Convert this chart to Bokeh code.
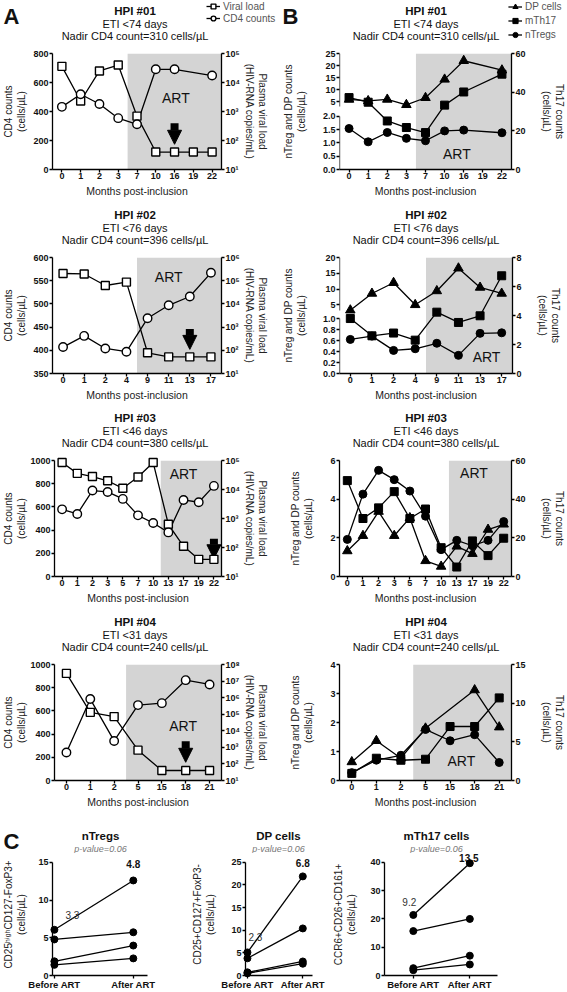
from bokeh.plotting import figure
from bokeh.models import (Range1d, LinearAxis, LogAxis, LogScale, FixedTicker,
                          BoxAnnotation, Label, Legend, LegendItem, Arrow, NormalHead)
from bokeh.layouts import column, row
from bokeh.embed import file_html
from bokeh.resources import INLINE

FONT = "Liberation Sans"
SHADE = "#d4d4d4"

# ------------------------------------------------------------------ data
hpi_names = ["HPI #01", "HPI #02", "HPI #03", "HPI #04"]
hpi_eti = ["ETI <74 days", "ETI <76 days", "ETI <46 days", "ETI <31 days"]
hpi_nadir = [310, 396, 380, 240]

# visit months (x categories)
hpi1_months = [0, 1, 2, 3, 7, 10, 16, 19, 22]
hpi2_months = [0, 1, 2, 4, 9, 11, 13, 17]
hpi3_months = [0, 1, 2, 3, 5, 7, 10, 13, 17, 19, 22]
hpi4_months = [0, 1, 2, 5, 15, 18, 21]
art_after_month = [3, 4, 10, 2]      # ART started after this visit
arrow_month = [16, 13, 22, 18]

# Panel A: CD4 counts (cells/uL) and plasma viral load (copies/mL)
a1_cd4_months = [0, 1, 2, 3, 7, 10, 16, 22]
a1_cd4 = [432, 519, 452, 354, 312, 691, 691, 648]
a1_vl = [36000, 2300, 25000, 40000, 690, 40, 40, 40, 40]

a2_cd4 = [407, 431, 404, 397, 469, 497, 516, 567]
a2_vl = [204000, 195000, 62000, 87000, 78, 52, 52, 52]

a3_cd4 = [579, 539, 741, 729, 669, 527, 461, 380, 660, 640, 781]
a3_vl = [85000, 36000, 28000, 20000, 11000, 27000, 85000, 630, 110, 39, 39]

a4_cd4 = [241, 702, 341, 650, 667, 865, 828]
a4_vl = [29000000, 130000, 72000, 680, 40, 40, 40]

a_cd4_ticks = [[0, 200, 400, 600, 800], [350, 400, 450, 500, 550, 600],
               [0, 200, 400, 600, 800, 1000], [0, 200, 400, 600, 800, 1000]]
a_vl_top_exp = [5, 6, 5, 8]

# Panel B: nTregs, DP cells (left) and mTh17 (right)
b1_series_months = [0, 1, 2, 3, 7, 10, 16, 22]
b1_dp = [6.0, 5.4, 6.0, 3.8, 6.7, 14.3, 22.0, 18.1]
b1_th17 = [37.2, 34.8, 25.1, 21.7, 19.1, 33.3, 40.1, 49.3]
b1_treg = [1.54, 1.04, 1.39, 1.17, 1.08, 1.45, 1.48, 1.38]

b2_dp = [3.3, 8.6, 12.0, 5.0, 9.4, 16.6, 10.5, 8.6]
b2_th17 = [3.79, 2.6, 2.79, 2.30, 4.23, 3.52, 3.98, 6.74]
b2_treg = [0.62, 0.68, 0.42, 0.45, 0.55, 0.33, 0.73, 0.74]

b3_dp = [1.32, 2.11, 3.36, 2.11, 3.03, 0.81, 0.52, 1.56, 1.18, 2.43, 2.70]
b3_th17 = [49.6, 30.0, 35.5, 43.9, 30.0, 34.9, 14.9, 4.9, 18.4, 10.8, 19.8]
b3_treg = [1.92, 4.26, 5.49, 5.01, 4.42, 3.12, 1.39, 1.87, 1.59, 1.87, 2.84]

b4_dp_months = [0, 1, 2, 5, 18, 21]
b4_dp = [0.64, 1.37, 0.77, 1.80, 3.12, 1.84]
b4_th17 = [0.92, 2.88, 2.62, 2.75, 6.98, 6.98, 10.68]
b4_treg = [0.27, 0.70, 0.87, 1.76, 1.37, 1.58, 0.62]

b1_lower_ticks = [0.0, 0.5, 1.0, 1.5, 2.0]
b1_upper_ticks = [5, 10, 15, 20, 25]
b2_lower_ticks = [0.0, 0.2, 0.4, 0.6, 0.8, 1.0]
b2_upper_ticks = [5, 10, 15, 20]
b3_left_ticks = [0, 2, 4, 6]
b4_left_ticks = [0, 1, 2, 3, 4]
b_th17_ticks = [[0, 20, 40, 60], [0, 2, 4, 6, 8], [0, 20, 40, 60], [0, 5, 10, 15]]

# Panel C: before / after ART
c_groups = ["Before ART", "After ART"]
c_ntreg_before = [6.06, 4.78, 1.88, 1.41]
c_ntreg_after = [12.6, 5.73, 3.97, 2.27]
c_dp_before = [5.1, 3.8, 0.7, 0.5]
c_dp_after = [21.9, 10.4, 3.1, 2.6]
c_th17_before = [21.4, 15.7, 2.6, 1.9]
c_th17_after = [39.7, 20.0, 7.0, 3.9]
c_medians = [("3.3", "4.8"), ("2.3", "6.8"), ("9.2", "13.5")]
c_pvalue = "p-value=0.06"
c_titles = ["nTregs", "DP cells", "mTh17 cells"]
c_yticks = [[0, 5, 10, 15], [0, 5, 10, 15, 20, 25], [0, 10, 20, 30, 40]]
c_ylabels = ["CD25ʰⁱᵍʰCD127-FoxP3+\n(cells/µL)", "CD25+CD127+FoxP3-\n(cells/µL)",
             "CCR6+CD26+CD161+\n(cells/µL)"]

SUP = {1: "¹", 2: "²", 3: "³", 4: "⁴", 5: "⁵", 6: "⁶", 7: "⁷", 8: "⁸"}

PAGE_W = 567
HEAD_H = 46
BODY_TOP = 7
FRAME_H = 116
A_W, A_L, A_R = 278, 48, 57
B_W, B_L, B_R = 289, 61, 55
A_CX = A_L + (A_W - A_L - A_R) / 2
B_CX = A_W + B_L + (B_W - B_L - B_R) / 2


# ------------------------------------------------------------------ helpers
def new_fig(w, h, xr, yr, ml, mr, mt, mb):
    p = figure(width=w, height=h, x_range=xr, y_range=yr, output_backend="svg",
               toolbar_location=None, min_border_left=ml, min_border_right=mr,
               min_border_top=mt, min_border_bottom=mb, title=None)
    p.grid.visible = False
    p.outline_line_color = None
    return p


def header_fig(w, h):
    p = figure(width=w, height=h, x_range=Range1d(0, w), y_range=Range1d(0, h),
               output_backend="svg", toolbar_location=None, min_border=0,
               min_border_left=0, min_border_right=0, min_border_top=0, min_border_bottom=0,
               x_axis_location=None, y_axis_location=None, title=None)
    p.grid.visible = False
    p.outline_line_color = None
    return p


def htext(p, h, x, y_top, text, size, style="normal", color="#111111", align="center",
          baseline="middle"):
    p.add_layout(Label(x=x, y=h - y_top, text=text, text_font=FONT, text_font_size=size,
                       text_font_style=style, text_color=color, text_align=align,
                       text_baseline=baseline))


def style_axis(ax, label=None, size="10px", tick_size="9px", standoff=3, tick_standoff=1):
    ax.axis_line_color = "black"
    ax.axis_line_width = 1.3
    ax.major_tick_line_color = "black"
    ax.major_tick_line_width = 1.3
    ax.major_tick_out = 3
    ax.major_tick_in = 0
    ax.minor_tick_line_color = None
    ax.major_label_text_font = FONT
    ax.major_label_text_font_size = tick_size
    ax.major_label_text_font_style = "bold"
    ax.major_label_text_color = "#111111"
    ax.major_label_standoff = tick_standoff
    if label is not None:
        ax.axis_label = label
        ax.axis_label_text_font = FONT
        ax.axis_label_text_font_size = size
        ax.axis_label_text_font_style = "normal"
        ax.axis_label_text_color = "#222222"
        ax.axis_label_standoff = standoff


def month_axis(p, months):
    ax = p.xaxis[0]
    ax.ticker = FixedTicker(ticks=list(range(len(months))))
    ax.major_label_overrides = {i: str(m) for i, m in enumerate(months)}
    style_axis(ax, "Months post-inclusion", size="10.5px", standoff=3, tick_standoff=0)


def small_legend(items, x, y, lh, sp):
    return Legend(items=items, location=(x, y), label_text_font=FONT,
                  label_text_font_size="10px", label_text_color="#555555", glyph_width=14,
                  glyph_height=lh, label_height=lh, label_standoff=3, spacing=sp, padding=0,
                  margin=0, border_line_color=None, background_fill_alpha=0)


def key(h, **kw):
    # legend key renderer: one point placed outside the header's visible area
    return h.scatter([-50], [-50], **kw)


def key_line(h):
    return h.line([-60, -50], [-50, -50], line_color="black", line_width=1.3)


def row_header(k, letters=False, legends=False):
    h = header_fig(PAGE_W, HEAD_H)
    for cx in (A_CX, B_CX):
        htext(h, HEAD_H, cx, 10, hpi_names[k], "11.5px", style="bold")
        htext(h, HEAD_H, cx, 23, hpi_eti[k], "11px")
        htext(h, HEAD_H, cx, 35, "Nadir CD4 count=%d cells/µL" % hpi_nadir[k], "11px")
    if letters:
        htext(h, HEAD_H, 3, 3, "A", "22px", style="bold", align="left", baseline="top")
        htext(h, HEAD_H, 282, 3, "B", "22px", style="bold", align="left", baseline="top")
    if legends:
        l1 = key_line(h)
        s1 = key(h, marker="square", size=8, fill_color="white", line_color="black",
                 line_width=1.4)
        l2 = key_line(h)
        s2 = key(h, marker="circle", size=8.5, fill_color="white", line_color="black",
                 line_width=1.4)
        h.add_layout(small_legend([LegendItem(label="Viral load", renderers=[l1, s1]),
                                   LegendItem(label="CD4 counts", renderers=[l2, s2])],
                                  206, HEAD_H - 24, 12, 0))
        lt = key_line(h)
        st = key(h, marker="triangle", size=9.5, color="black")
        lq = key_line(h)
        sq = key(h, marker="square", size=8, color="black")
        lc = key_line(h)
        sc = key(h, marker="circle", size=8, color="black")
        h.add_layout(small_legend([LegendItem(label="DP cells", renderers=[lt, st]),
                                   LegendItem(label="mTh17", renderers=[lq, sq]),
                                   LegendItem(label="nTregs", renderers=[lc, sc])],
                                  508, HEAD_H - 41, 13, 1))
    return h


# ------------------------------------------------------------------ panel A
def panel_A(k, months, cd4_months, cd4, vl, art_x, art_y, arrow_y, bottom=35, wide_ticks=False):
    n = len(months)
    ticks = a_cd4_ticks[k]
    top = a_vl_top_exp[k]
    p = new_fig(A_W, BODY_TOP + FRAME_H + bottom, Range1d(-0.5, n - 0.5),
                Range1d(ticks[0], ticks[-1]), A_L, A_R, BODY_TOP, bottom)
    p.extra_y_ranges = {"vl": Range1d(10, 10 ** top)}
    p.extra_y_scales = {"vl": LogScale()}
    p.add_layout(BoxAnnotation(left=months.index(art_after_month[k]) + 0.5, fill_color=SHADE,
                               fill_alpha=1, line_color=None, level="underlay"))
    month_axis(p, months)
    ly = p.yaxis[0]
    ly.ticker = FixedTicker(ticks=ticks)
    style_axis(ly, "CD4 counts\n(cells/µL)", standoff=0 if wide_ticks else 3)
    ra = LogAxis(y_range_name="vl", ticker=FixedTicker(ticks=[10 ** e for e in range(1, top + 1)]))
    ra.major_label_overrides = {10 ** e: "10" + SUP[e] for e in range(1, top + 1)}
    style_axis(ra, "Plasma viral load\n(HIV-RNA copies/mL)", standoff=1)
    p.add_layout(ra, "right")

    xi_c = [months.index(m) for m in cd4_months]
    xi_v = list(range(n))
    p.line(xi_v, vl, y_range_name="vl", line_color="black", line_width=1.3)
    p.scatter(xi_v, vl, y_range_name="vl", marker="square", size=8, fill_color="white",
              line_color="black", line_width=1.4, level="overlay")
    p.line(xi_c, cd4, line_color="black", line_width=1.3)
    p.scatter(xi_c, cd4, marker="circle", size=8.5, fill_color="white",
              line_color="black", line_width=1.4, level="overlay")
    p.add_layout(Label(x=art_x, y=art_y, x_units="data", y_units="screen", text="ART",
                       text_font=FONT, text_font_size="14px", text_align="center",
                       text_baseline="middle", text_color="#111111"))
    am = months.index(arrow_month[k])
    p.add_layout(Arrow(end=NormalHead(size=14, fill_color="black", line_color="black"),
                       x_start=am, y_start=arrow_y[0], x_end=am, y_end=arrow_y[1],
                       line_color="black", line_width=8))
    return p


# ------------------------------------------------------------------ panel B
def panel_B(k, months, s_months, dp_months, dp, th17, treg, art_x, art_y, bottom=35,
            broken=None, left_ticks=None):
    n = len(months)
    tt = b_th17_ticks[k]
    yr = Range1d(0, 1) if broken else Range1d(left_ticks[0], left_ticks[-1])
    p = new_fig(B_W, BODY_TOP + FRAME_H + bottom, Range1d(-0.5, n - 0.5), yr,
                B_L, B_R, BODY_TOP, bottom)
    p.extra_y_ranges = {"th17": Range1d(tt[0], tt[-1])}
    p.add_layout(BoxAnnotation(left=months.index(art_after_month[k]) + 0.5, fill_color=SHADE,
                               fill_alpha=1, line_color=None, level="underlay"))
    month_axis(p, months)
    ly = p.yaxis[0]
    style_axis(ly, "nTreg and DP counts\n(cells/µL)", standoff=13)
    dp_range, tr_range = "default", "default"
    if broken is None:
        ly.ticker = FixedTicker(ticks=left_ticks)
    else:
        lower_ticks, lower_frac, upper_ticks, anchor_frac, brk_frac = broken
        lt_top = lower_ticks[-1]
        a0, top = upper_ticks[0], upper_ticks[-1]
        slope = (1 - anchor_frac) / (top - a0)
        p.extra_y_ranges["lower"] = Range1d(0, lt_top / lower_frac)
        p.extra_y_ranges["upper"] = Range1d(a0 - anchor_frac / slope, top)
        pos, labels = [], {}
        for t in lower_ticks:
            f = round(t / lt_top * lower_frac, 5)
            pos.append(f)
            labels[f] = "%.1f" % t
        for u in upper_ticks:
            f = round(anchor_frac + (u - a0) * slope, 5)
            pos.append(f)
            labels[f] = "%d" % u
        ly.ticker = FixedTicker(ticks=pos)
        ly.major_label_overrides = labels
        ly.axis_line_color = None
        for b in [(0, lower_frac), (brk_frac, 1.0)]:
            seg = LinearAxis(fixed_location=-0.5, bounds=b, ticker=FixedTicker(ticks=[]),
                             axis_line_color="black", axis_line_width=1.3,
                             major_tick_line_color=None, minor_tick_line_color=None,
                             major_label_text_font_size="0px")
            p.add_layout(seg, "left")
        dp_range, tr_range = "upper", "lower"
    ra = LinearAxis(y_range_name="th17", ticker=FixedTicker(ticks=tt))
    style_axis(ra, "Th17 counts\n(cells/µL)", standoff=12)
    p.add_layout(ra, "right")

    xi = [months.index(m) for m in s_months]
    xd = [months.index(m) for m in dp_months]
    p.line(xd, dp, y_range_name=dp_range, line_color="black", line_width=1.3)
    p.scatter(xd, dp, y_range_name=dp_range, marker="triangle", size=9.5, color="black",
              level="overlay")
    p.line(xi, th17, y_range_name="th17", line_color="black", line_width=1.3)
    p.scatter(xi, th17, y_range_name="th17", marker="square", size=8, color="black",
              level="overlay")
    p.line(xi, treg, y_range_name=tr_range, line_color="black", line_width=1.3)
    p.scatter(xi, treg, y_range_name=tr_range, marker="circle", size=8, color="black",
              level="overlay")
    p.add_layout(Label(x=art_x, y=art_y, x_units="data", y_units="screen", text="ART",
                       text_font=FONT, text_font_size="14px", text_align="center",
                       text_baseline="middle", text_color="#111111"))
    return p


# ------------------------------------------------------------------ panel C
C_HEAD = 38
C_FRAME = 124        # frame height (top tick sits 9px below frame top)
C_TICKSPAN = 115     # pixels from 0 to the top tick
C_TITLE_X = [100, 278, 436]


def c_header():
    h = header_fig(PAGE_W, C_HEAD)
    htext(h, C_HEAD, 3, 13, "C", "22px", style="bold", align="left", baseline="top")
    for k in range(3):
        htext(h, C_HEAD, C_TITLE_X[k], 20, c_titles[k], "11.5px", style="bold")
        htext(h, C_HEAD, C_TITLE_X[k], 33, c_pvalue, "9px", style="italic", color="#777777")
    return h


def panel_C(k, w, ml, mr, xr, before, after, std, med_off):
    ticks = c_yticks[k]
    ytop = ticks[-1] * C_FRAME / C_TICKSPAN
    p = new_fig(w, C_FRAME + 15, Range1d(*xr), Range1d(0, ytop), ml, mr, 0, 15)
    xa = p.xaxis[0]
    xa.ticker = FixedTicker(ticks=[0, 1])
    xa.major_label_overrides = {0: c_groups[0], 1: c_groups[1]}
    style_axis(xa, tick_size="9.5px", tick_standoff=0)
    ya = p.yaxis[0]
    ya.ticker = FixedTicker(ticks=ticks)
    ya.bounds = (0, ticks[-1])
    style_axis(ya, c_ylabels[k], size="10px", standoff=std)
    m = len(before)
    p.segment(x0=[0] * m, y0=before, x1=[1] * m, y1=after, line_color="black", line_width=1.3)
    p.scatter([0] * m + [1] * m, before + after, marker="circle", size=7, color="black",
              level="overlay")
    (bx, by), (ax_, ay) = med_off
    p.add_layout(Label(x=0, y=max(before), x_offset=bx, y_offset=by, text=c_medians[k][0],
                       text_font=FONT, text_font_size="10px", text_align="center",
                       text_baseline="middle", text_color="#333333"))
    p.add_layout(Label(x=1, y=max(after), x_offset=ax_, y_offset=ay, text=c_medians[k][1],
                       text_font=FONT, text_font_size="10px", text_font_style="bold",
                       text_align="center", text_baseline="middle", text_color="#111111"))
    return p


# ------------------------------------------------------------------ build
a1 = panel_A(0, hpi1_months, a1_cd4_months, a1_cd4, a1_vl, 6.07, 72, (319, 174))
a2 = panel_A(1, hpi2_months, hpi2_months, a2_cd4, a2_vl, 5.0, 97, (446, 402), bottom=34)
a3 = panel_A(2, hpi3_months, hpi3_months, a3_cd4, a3_vl, 8.0, 103, (325, 153), wide_ticks=True)
a4 = panel_A(3, hpi4_months, hpi4_months, a4_cd4, a4_vl, 4.89, 55, (338, 157), wide_ticks=True)

b1 = panel_B(0, hpi1_months, b1_series_months, b1_series_months, b1_dp, b1_th17, b1_treg,
             5.64, 16, broken=(b1_lower_ticks, 0.459, b1_upper_ticks, 0.583, 0.54))
b2 = panel_B(1, hpi2_months, hpi2_months, hpi2_months, b2_dp, b2_th17, b2_treg, 6.3, 17,
             bottom=34, broken=(b2_lower_ticks, 0.474, b2_upper_ticks, 0.592, 0.54))
b3 = panel_B(2, hpi3_months, hpi3_months, hpi3_months, b3_dp, b3_th17, b3_treg, 8.1, 104,
             left_ticks=b3_left_ticks)
b4 = panel_B(3, hpi4_months, hpi4_months, b4_dp_months, b4_dp, b4_th17, b4_treg, 4.46, 20,
             left_ticks=b4_left_ticks)

c1 = panel_C(0, 189, 48, 42, (-0.024, 1.18), c_ntreg_before, c_ntreg_after, 8,
             ((18, 15), (0, 16)))
c2 = panel_C(1, 141, 54, 18, (-0.035, 1.175), c_dp_before, c_dp_after, 12,
             ((8, 15), (0, 13)))
c3 = panel_C(2, 237, 53, 70, (-0.51, 1.49), c_th17_before, c_th17_after, 10,
             ((-4, 13), (-1, 5)))

layout = column(row_header(0, letters=True, legends=True), row(a1, b1),
                row_header(1), row(a2, b2),
                row_header(2), row(a3, b3),
                row_header(3), row(a4, b4),
                c_header(), row(c1, c2, c3))
open("out.html", "w").write(file_html(layout, INLINE))
